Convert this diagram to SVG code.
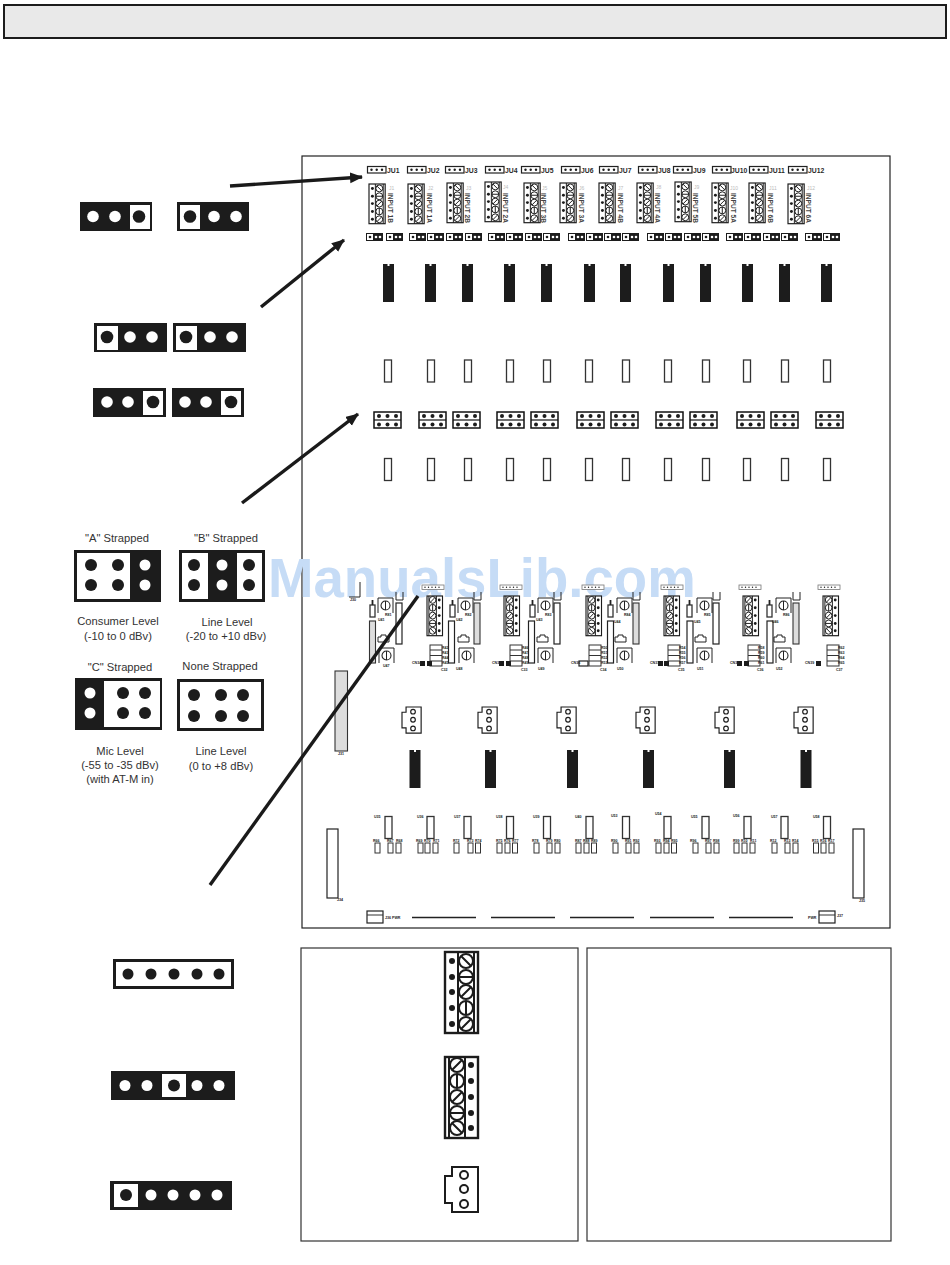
<svg xmlns="http://www.w3.org/2000/svg" width="950" height="1265" viewBox="0 0 950 1265">
<style>
text{font-family:"Liberation Sans",Arial,sans-serif;fill:#2a2a2a}
.cap{font-size:11.2px;text-anchor:middle;fill:#333}
.ju{font-size:6.8px;font-weight:bold}
.inp{font-size:6.6px;font-weight:bold;fill:#444}
.jl{font-size:5px;fill:#bbb}
.t{font-size:3.6px;font-weight:bold;fill:#222}
.k{fill:#1c1c1c}
.w{fill:#fff}
.pn{fill:#fff;stroke:#222;stroke-width:1.2}
.pj{fill:#fff;stroke:#111;stroke-width:1.5}
.sr{fill:#fff;stroke:#333;stroke-width:1.3}
.gr{fill:#ddd;stroke:#333;stroke-width:1.1}
.arrow{stroke:#1a1a1a;stroke-width:3.4;fill:none}
.s{fill:none;stroke:#1c1c1c;stroke-width:2}
.s1{fill:none;stroke:#222;stroke-width:1}
</style>
<defs>
<marker id="ah" markerUnits="userSpaceOnUse" markerWidth="14" markerHeight="12" refX="12" refY="5.5" orient="auto"><path d="M0,0L13,5.5L0,11z" fill="#1a1a1a"/></marker>
<g id="tbL"><rect width="33" height="81" fill="#fff" stroke="#1c1c1c" stroke-width="2.4"/><path class="s" d="M13,0V81M29,0V81"/><g class="k"><circle cx="7" cy="9" r="3"/><circle cx="7" cy="25" r="3"/><circle cx="7" cy="40" r="3"/><circle cx="7" cy="56" r="3"/><circle cx="7" cy="72" r="3"/></g><g class="s"><circle cx="21" cy="9" r="7"/><circle cx="21" cy="25" r="7"/><circle cx="21" cy="40" r="7"/><circle cx="21" cy="56" r="7"/><circle cx="21" cy="72" r="7"/><path d="M16,4L26,14M14,25H28M16,45L26,35M21,49V63M16,77L26,67"/></g></g>
<g id="tbR"><rect width="33" height="81" fill="#fff" stroke="#1c1c1c" stroke-width="2.4"/><path class="s" d="M4,0V81M20,0V81"/><g class="k"><circle cx="26" cy="8" r="3"/><circle cx="26" cy="24" r="3"/><circle cx="26" cy="40" r="3"/><circle cx="26" cy="56" r="3"/><circle cx="26" cy="71" r="3"/></g><g class="s"><circle cx="12" cy="8" r="7"/><circle cx="12" cy="24" r="7"/><circle cx="12" cy="40" r="7"/><circle cx="12" cy="56" r="7"/><circle cx="12" cy="71" r="7"/><path d="M7,13L17,3M12,17V31M7,45L17,35M5,56H19M7,66L17,76"/></g></g>
<g id="tb1"><use href="#tbL" transform="scale(.49)"/></g>
<g id="tb2"><use href="#tbR" transform="scale(.47 .49)"/></g>
<g id="p3"><path d="M33,0H7V9H0V36H7V45H33z" fill="#fff" stroke="#1c1c1c" stroke-width="2"/><g fill="#fff" stroke="#1c1c1c" stroke-width="2"><circle cx="19" cy="8" r="4"/><circle cx="19" cy="22" r="4"/><circle cx="19" cy="37" r="4"/></g></g>
<g id="p3s"><use href="#p3" transform="scale(.58)"/></g>
<g id="hd"><rect x=".5" y=".5" width="18.500" height="6.500" class="pn"/><g class="k"><circle cx="4.500" cy="3.700" r="1.200"/><circle cx="9.700" cy="3.700" r="1.200"/><circle cx="15" cy="3.700" r="1.200"/></g></g>
<g id="bk"><rect width="17" height="8" class="k"/><rect x="1" y="1" width="6" height="6" class="w"/><circle cx="4" cy="4" r="1.300" class="k"/><circle cx="10" cy="4" r="1.300" class="w"/><circle cx="14" cy="4" r="1.300" class="w"/></g>
<g id="ic"><rect width="11" height="38" class="k"/><rect x="4.500" width="2" height="2" class="w"/></g>
<g id="sm"><rect width="7" height="22" class="sr"/></g>
<g id="j6"><rect width="27" height="16" class="pj"/><path d="M0,8H27" stroke="#111" stroke-width="1.200"/><g class="k"><circle cx="5" cy="4" r="2"/><circle cx="13.500" cy="4" r="2"/><circle cx="22" cy="4" r="2"/><circle cx="5" cy="12.500" r="2"/><circle cx="13.500" cy="12.500" r="2"/><circle cx="22" cy="12.500" r="2"/></g></g>
<g id="pot"><path class="s1" d="M0,15V0H15V15"/><circle cx="7.500" cy="7.500" r="4.500" fill="#fff" stroke="#222" stroke-width="1.100"/><path class="s1" d="M7.500,3V12"/></g>
<g id="mini"><path class="s1" d="M0,7V2H3V0H8V2H11V7z"/></g>
<g id="jbr"><path class="s1" d="M0,0V8H7V0"/></g>
<g id="res"><rect y="5" width="5" height="12" class="sr"/><path d="M2.500,0V5" stroke="#222" stroke-width="1.800"/></g>
<g id="stk"><rect width="12" height="21" fill="#fff" stroke="#333" stroke-width="1"/><path d="M0,5H12M0,10.500H12M0,16H12" stroke="#333" stroke-width="1"/></g>
<g id="pin6"><rect width="22" height="4.500" fill="#fff" stroke="#777" stroke-width=".8"/><g class="k"><circle cx="3" cy="2.200" r=".7"/><circle cx="6.500" cy="2.200" r=".7"/><circle cx="10" cy="2.200" r=".7"/><circle cx="13.500" cy="2.200" r=".7"/><circle cx="17" cy="2.200" r=".7"/></g></g>
<g id="ss"><rect width="5" height="10" fill="#fff" stroke="#333" stroke-width="1"/></g>
</defs>

<rect width="950" height="1265" fill="#fff"/>
<g id="header-bar"><rect x="4" y="5" width="942" height="33" fill="#e9e9e9" stroke="#1c1c1c" stroke-width="2"/></g>
<g id="board-frame"><rect x="302" y="156" width="588" height="772" fill="#fff" stroke="#222" stroke-width="1.200"/></g>
<g id="panel-left"><rect x="301" y="948" width="277" height="293" fill="#fff" stroke="#333" stroke-width="1.200"/></g>
<g id="panel-right"><rect x="587" y="948" width="304" height="293" fill="#fff" stroke="#333" stroke-width="1.200"/></g>
<text id="watermark" x="268" y="597" style="font-size:54.600px;font-weight:bold;fill:#c6dcf6">ManualsLib.com</text>

<g id="ju-headers">
<use href="#hd" x="367" y="166"/><text class="ju" x="387" y="172.500">JU1</text>
<use href="#hd" x="407" y="166"/><text class="ju" x="427" y="172.500">JU2</text>
<use href="#hd" x="445" y="166"/><text class="ju" x="465" y="172.500">JU3</text>
<use href="#hd" x="485" y="166"/><text class="ju" x="505" y="172.500">JU4</text>
<use href="#hd" x="521" y="166"/><text class="ju" x="541" y="172.500">JU5</text>
<use href="#hd" x="561" y="166"/><text class="ju" x="581" y="172.500">JU6</text>
<use href="#hd" x="599" y="166"/><text class="ju" x="619" y="172.500">JU7</text>
<use href="#hd" x="638" y="166"/><text class="ju" x="658" y="172.500">JU8</text>
<use href="#hd" x="673" y="166"/><text class="ju" x="693" y="172.500">JU9</text>
<use href="#hd" x="712" y="166"/><text class="ju" x="731" y="172.500">JU10</text>
<use href="#hd" x="749" y="166"/><text class="ju" x="769" y="172.500">JU11</text>
<use href="#hd" x="788" y="166"/><text class="ju" x="808" y="172.500">JU12</text>
</g>

<g id="inputs">
<use href="#tb1" x="369" y="184"/><text class="jl" x="389" y="190">J1</text><text class="inp" transform="translate(388,193) rotate(90)">INPUT 1B</text>
<use href="#tb1" x="408" y="184"/><text class="jl" x="428" y="190">J2</text><text class="inp" transform="translate(427,193) rotate(90)">INPUT 1A</text>
<use href="#tb1" x="447" y="183"/><text class="jl" x="466" y="190">J3</text><text class="inp" transform="translate(465,193) rotate(90)">INPUT 2B</text>
<use href="#tb1" x="485" y="182"/><text class="jl" x="503" y="189">J4</text><text class="inp" transform="translate(503,193) rotate(90)">INPUT 2A</text>
<use href="#tb1" x="524" y="183"/><text class="jl" x="542" y="190">J5</text><text class="inp" transform="translate(541,193) rotate(90)">INPUT 3B</text>
<use href="#tb1" x="560" y="183"/><text class="jl" x="579" y="190">J6</text><text class="inp" transform="translate(579,193) rotate(90)">INPUT 3A</text>
<use href="#tb1" x="599" y="183"/><text class="jl" x="618" y="190">J7</text><text class="inp" transform="translate(618,193) rotate(90)">INPUT 4B</text>
<use href="#tb1" x="637" y="183"/><text class="jl" x="656" y="189">J8</text><text class="inp" transform="translate(655,193) rotate(90)">INPUT 4A</text>
<use href="#tb1" x="675" y="182"/><text class="jl" x="694" y="189">J9</text><text class="inp" transform="translate(693,193) rotate(90)">INPUT 5B</text>
<use href="#tb1" x="712" y="183"/><text class="jl" x="730" y="190">J10</text><text class="inp" transform="translate(731,193) rotate(90)">INPUT 5A</text>
<use href="#tb1" x="749" y="183"/><text class="jl" x="769" y="190">J11</text><text class="inp" transform="translate(768,193) rotate(90)">INPUT 6B</text>
<use href="#tb1" x="788" y="184"/><text class="jl" x="807" y="190">J12</text><text class="inp" transform="translate(806,193) rotate(90)">INPUT 6A</text>
</g>

<g id="black-jumper-row">
<use href="#bk" x="366" y="233"/><use href="#bk" x="386" y="233"/><use href="#bk" x="409" y="233"/><use href="#bk" x="427" y="233"/><use href="#bk" x="446" y="233"/><use href="#bk" x="465" y="233"/><use href="#bk" x="488" y="233"/><use href="#bk" x="506" y="233"/><use href="#bk" x="525" y="233"/><use href="#bk" x="543" y="233"/><use href="#bk" x="568" y="233"/><use href="#bk" x="586" y="233"/><use href="#bk" x="604" y="233"/><use href="#bk" x="622" y="233"/><use href="#bk" x="647" y="233"/><use href="#bk" x="665" y="233"/><use href="#bk" x="684" y="233"/><use href="#bk" x="702" y="233"/><use href="#bk" x="726" y="233"/><use href="#bk" x="744" y="233"/><use href="#bk" x="763" y="233"/><use href="#bk" x="781" y="233"/><use href="#bk" x="805" y="233"/><use href="#bk" x="823" y="233"/>
</g>
<g id="ic-row-top">
<use href="#ic" x="383" y="264"/><use href="#ic" x="425" y="264"/><use href="#ic" x="462" y="264"/><use href="#ic" x="504" y="264"/><use href="#ic" x="541" y="264"/><use href="#ic" x="584" y="264"/><use href="#ic" x="620" y="264"/><use href="#ic" x="663" y="264"/><use href="#ic" x="700" y="264"/><use href="#ic" x="742" y="264"/><use href="#ic" x="779" y="264"/><use href="#ic" x="821" y="264"/>
</g>
<g id="small-row-a">
<use href="#sm" x="384.500" y="360"/><use href="#sm" x="427.500" y="360"/><use href="#sm" x="464.500" y="360"/><use href="#sm" x="506.500" y="360"/><use href="#sm" x="543.500" y="360"/><use href="#sm" x="585.500" y="360"/><use href="#sm" x="622.500" y="360"/><use href="#sm" x="664.500" y="360"/><use href="#sm" x="702.500" y="360"/><use href="#sm" x="743.500" y="360"/><use href="#sm" x="781.500" y="360"/><use href="#sm" x="823.500" y="360"/>
</g>
<g id="six-pin-row">
<use href="#j6" x="374" y="412"/><use href="#j6" x="419" y="412"/><use href="#j6" x="453" y="412"/><use href="#j6" x="497" y="412"/><use href="#j6" x="531" y="412"/><use href="#j6" x="577" y="412"/><use href="#j6" x="611" y="412"/><use href="#j6" x="656" y="412"/><use href="#j6" x="690" y="412"/><use href="#j6" x="737" y="412"/><use href="#j6" x="771" y="412"/><use href="#j6" x="816" y="412"/>
</g>
<g id="small-row-b">
<use href="#sm" x="384.500" y="458.500"/><use href="#sm" x="427.500" y="458.500"/><use href="#sm" x="464.500" y="458.500"/><use href="#sm" x="506.500" y="458.500"/><use href="#sm" x="543.500" y="458.500"/><use href="#sm" x="585.500" y="458.500"/><use href="#sm" x="622.500" y="458.500"/><use href="#sm" x="664.500" y="458.500"/><use href="#sm" x="702.500" y="458.500"/><use href="#sm" x="743.500" y="458.500"/><use href="#sm" x="781.500" y="458.500"/><use href="#sm" x="823.500" y="458.500"/>
</g>

<g id="side-parts">
<rect x="335" y="671" width="12.500" height="80" class="gr"/><text class="t" x="338" y="755">J31</text>
<path class="s1" d="M360,582V597H349"/><text class="t" x="350" y="601">J30</text>
<rect x="327" y="829" width="11" height="69" class="pn"/><text class="t" x="337" y="901">J34</text>
<rect x="853" y="829" width="11" height="69" class="pn"/><text class="t" x="859" y="902">J35</text>
<rect x="367" y="911" width="16" height="12" class="pn"/><path d="M367,915H383" stroke="#333"/><text class="t" x="385" y="919">J36 PWR</text>
<rect x="819" y="911" width="16" height="12" class="pn"/><path d="M819,915H835" stroke="#333"/><text class="t" x="808" y="919">PWR</text><text class="t" x="837" y="917">J37</text>
</g>
<g id="long-lines"><path d="M412,917.500H476M491,917.500H555M570,917.500H634M650,917.500H714M729,917.500H793" stroke="#222" stroke-width="1.500"/></g>

<g id="channel-1">
<use href="#res" x="370" y="600"/><rect x="369.500" y="621" width="6" height="42" class="gr"/><use href="#pot" x="378" y="598"/><use href="#pot" x="379" y="648"/><use href="#mini" x="378" y="635"/><use href="#jbr" x="396" y="592"/><rect x="396" y="603" width="6" height="41" class="pn"/>
<use href="#tb2" x="427" y="596"/><use href="#pin6" x="422" y="585"/><use href="#stk" x="430" y="645"/><rect x="420" y="661" width="5" height="5" class="k"/><rect x="427" y="661" width="5" height="5" class="k"/>
<text class="t" x="378" y="621">U41</text><text class="t" x="385" y="616">R81</text><text class="t" x="383" y="667">U47</text><text class="t" x="412" y="664">CN34</text><text class="t" x="442" y="649">R42</text><text class="t" x="442" y="654">R43</text><text class="t" x="442" y="659">R44</text><text class="t" x="442" y="664">R45</text><text class="t" x="441" y="671">C32</text>
</g>
<g id="channel-2">
<use href="#res" x="450" y="600"/><rect x="448.500" y="621" width="6" height="42" class="pn"/><use href="#pot" x="458" y="598"/><use href="#pot" x="459" y="648"/><use href="#mini" x="458" y="635"/><use href="#jbr" x="474" y="592"/><rect x="474" y="603" width="6" height="41" class="gr"/>
<use href="#tb2" x="504" y="596"/><use href="#pin6" x="500" y="585"/><use href="#stk" x="510" y="645"/><rect x="499" y="661" width="5" height="5" class="k"/><rect x="506" y="661" width="5" height="5" class="k"/>
<text class="t" x="456" y="621">U42</text><text class="t" x="465" y="616">R82</text><text class="t" x="456" y="670">U48</text><text class="t" x="492" y="664">CN35</text><text class="t" x="522" y="649">R46</text><text class="t" x="522" y="654">R47</text><text class="t" x="522" y="659">R48</text><text class="t" x="522" y="664">R49</text><text class="t" x="521" y="671">C33</text>
</g>
<g id="channel-3">
<use href="#res" x="530" y="600"/><rect x="528.500" y="621" width="6" height="42" class="pn"/><use href="#pot" x="538" y="598"/><use href="#pot" x="538" y="648"/><use href="#mini" x="537" y="635"/><use href="#jbr" x="554" y="592"/><rect x="554" y="603" width="6" height="41" class="pn"/>
<use href="#tb2" x="586" y="596"/><use href="#pin6" x="582" y="585"/><use href="#stk" x="589" y="645"/><rect x="579" y="661" width="9" height="5" class="pn"/>
<text class="t" x="536" y="621">U43</text><text class="t" x="545" y="616">R83</text><text class="t" x="538" y="670">U49</text><text class="t" x="571" y="664">CN36</text><text class="t" x="601" y="649">R50</text><text class="t" x="601" y="654">R51</text><text class="t" x="601" y="659">R52</text><text class="t" x="601" y="664">R53</text><text class="t" x="600" y="671">C34</text>
</g>
<g id="channel-4">
<use href="#res" x="608" y="600"/><rect x="607.500" y="621" width="6" height="42" class="pn"/><use href="#pot" x="617" y="598"/><use href="#pot" x="617" y="648"/><use href="#mini" x="615" y="635"/><use href="#jbr" x="633" y="592"/><rect x="633" y="603" width="6" height="41" class="gr"/>
<use href="#tb2" x="664" y="596"/><use href="#pin6" x="661" y="585"/><use href="#stk" x="668" y="645"/><rect x="658" y="661" width="5" height="5" class="k"/><rect x="664" y="661" width="5" height="5" class="k"/>
<text class="t" x="614" y="623">U44</text><text class="t" x="624" y="616">R84</text><text class="t" x="617" y="670">U50</text><text class="t" x="650" y="664">CN37</text><text class="t" x="679" y="649">R54</text><text class="t" x="679" y="654">R55</text><text class="t" x="679" y="659">R56</text><text class="t" x="679" y="664">R57</text><text class="t" x="678" y="671">C35</text>
</g>
<g id="channel-5">
<use href="#res" x="687" y="600"/><rect x="687" y="621" width="6" height="42" class="pn"/><use href="#pot" x="697" y="598"/><use href="#pot" x="697" y="648"/><use href="#mini" x="695" y="635"/><use href="#jbr" x="713" y="592"/><rect x="713" y="603" width="6" height="41" class="pn"/>
<use href="#tb2" x="743" y="596"/><use href="#pin6" x="739" y="585"/><use href="#stk" x="748" y="645"/><rect x="737" y="661" width="5" height="5" class="k"/><rect x="744" y="661" width="5" height="5" class="k"/>
<text class="t" x="694" y="623">U45</text><text class="t" x="704" y="616">R85</text><text class="t" x="697" y="670">U51</text><text class="t" x="730" y="664">CN38</text><text class="t" x="758" y="649">R58</text><text class="t" x="758" y="654">R59</text><text class="t" x="758" y="659">R60</text><text class="t" x="758" y="664">R61</text><text class="t" x="757" y="671">C36</text>
</g>
<g id="channel-6">
<use href="#res" x="767" y="600"/><rect x="767" y="621" width="6" height="42" class="pn"/><use href="#pot" x="776" y="598"/><use href="#pot" x="776" y="648"/><use href="#mini" x="774" y="635"/><use href="#jbr" x="793" y="592"/><rect x="793" y="603" width="6" height="41" class="gr"/>
<use href="#tb2" x="823" y="596"/><use href="#pin6" x="818" y="585"/><use href="#stk" x="827" y="645"/><rect x="816" y="661" width="5" height="5" class="k"/>
<text class="t" x="772" y="623">U46</text><text class="t" x="783" y="616">R86</text><text class="t" x="776" y="670">U52</text><text class="t" x="805" y="664">CN39</text><text class="t" x="838" y="649">R62</text><text class="t" x="838" y="654">R63</text><text class="t" x="838" y="659">R64</text><text class="t" x="838" y="664">R65</text><text class="t" x="836" y="671">C37</text>
</g>

<g id="three-pin-row">
<use href="#p3s" x="402" y="707"/><use href="#p3s" x="478" y="707"/><use href="#p3s" x="557" y="707"/><use href="#p3s" x="636" y="707"/><use href="#p3s" x="715" y="707"/><use href="#p3s" x="794" y="707"/>
</g>
<g id="ic-row-lower">
<use href="#ic" x="409.500" y="750"/><use href="#ic" x="485" y="750"/><use href="#ic" x="567" y="750"/><use href="#ic" x="643" y="750"/><use href="#ic" x="724" y="750"/><use href="#ic" x="800.500" y="750"/>
</g>
<g id="bottom-parts">
<use href="#sm" x="385" y="816.500"/><use href="#sm" x="427" y="816.500"/><use href="#sm" x="464" y="816.500"/><use href="#sm" x="506.500" y="816.500"/><use href="#sm" x="543.500" y="816.500"/><use href="#sm" x="586" y="816.500"/><use href="#sm" x="622.500" y="816.500"/><use href="#sm" x="664" y="816.500"/><use href="#sm" x="702" y="816.500"/><use href="#sm" x="744" y="816.500"/><use href="#sm" x="781" y="816.500"/><use href="#sm" x="823.500" y="816.500"/>
<use href="#ss" x="375" y="843"/><use href="#ss" x="388" y="843"/><use href="#ss" x="396" y="843"/>
<use href="#ss" x="418" y="843"/><use href="#ss" x="425" y="843"/><use href="#ss" x="433" y="843"/>
<use href="#ss" x="454" y="843"/><use href="#ss" x="468" y="843"/><use href="#ss" x="475.500" y="843"/>
<use href="#ss" x="497" y="843"/><use href="#ss" x="505" y="843"/><use href="#ss" x="512.500" y="843"/>
<use href="#ss" x="534" y="843"/><use href="#ss" x="547" y="843"/><use href="#ss" x="555" y="843"/>
<use href="#ss" x="576" y="843"/><use href="#ss" x="584" y="843"/><use href="#ss" x="591.500" y="843"/>
<use href="#ss" x="613" y="843"/><use href="#ss" x="626" y="843"/><use href="#ss" x="634" y="843"/>
<use href="#ss" x="656" y="843"/><use href="#ss" x="664" y="843"/><use href="#ss" x="671.500" y="843"/>
<use href="#ss" x="693" y="843"/><use href="#ss" x="706" y="843"/><use href="#ss" x="714" y="843"/>
<use href="#ss" x="734" y="843"/><use href="#ss" x="742" y="843"/><use href="#ss" x="750" y="843"/>
<use href="#ss" x="772" y="843"/><use href="#ss" x="785" y="843"/><use href="#ss" x="793" y="843"/>
<use href="#ss" x="813.500" y="843"/><use href="#ss" x="821" y="843"/><use href="#ss" x="829" y="843"/>
<text class="t" x="374" y="818">U35</text><text class="t" x="417" y="818">U36</text><text class="t" x="454" y="818">U37</text><text class="t" x="496" y="818">U38</text><text class="t" x="533" y="818">U39</text><text class="t" x="575" y="818">U40</text><text class="t" x="611" y="817">U53</text><text class="t" x="655" y="815">U54</text><text class="t" x="691" y="818">U55</text><text class="t" x="733" y="817">U56</text><text class="t" x="771" y="818">U57</text><text class="t" x="813" y="818">U58</text>
<text class="t" x="373" y="842">R66</text><text class="t" x="387" y="842">R67</text><text class="t" x="396" y="842">R68</text>
<text class="t" x="416" y="842">R69</text><text class="t" x="424" y="842">R70</text><text class="t" x="433" y="842">R71</text>
<text class="t" x="453" y="842">R72</text><text class="t" x="467" y="842">R73</text><text class="t" x="475" y="842">R74</text>
<text class="t" x="496" y="842">R75</text><text class="t" x="504" y="842">R76</text><text class="t" x="512" y="842">R77</text>
<text class="t" x="532" y="842">R78</text><text class="t" x="546" y="842">R79</text><text class="t" x="554" y="842">R80</text>
<text class="t" x="575" y="842">R87</text><text class="t" x="583" y="842">R88</text><text class="t" x="591" y="842">R89</text>
<text class="t" x="611" y="842">R90</text><text class="t" x="625" y="842">R91</text><text class="t" x="633" y="842">R92</text>
<text class="t" x="654" y="842">R93</text><text class="t" x="663" y="842">R94</text><text class="t" x="671" y="842">R95</text>
<text class="t" x="690" y="842">R96</text><text class="t" x="705" y="842">R97</text><text class="t" x="713" y="842">R98</text>
<text class="t" x="733" y="842">R99</text><text class="t" x="741" y="842">R10</text><text class="t" x="750" y="842">R11</text>
<text class="t" x="770" y="842">R12</text><text class="t" x="784" y="842">R13</text><text class="t" x="792" y="842">R14</text>
<text class="t" x="812" y="842">R15</text><text class="t" x="820" y="842">R16</text><text class="t" x="828" y="842">R17</text>
</g>

<g id="jumper-a1"><rect x="80" y="202" width="72" height="29" class="k"/><rect x="130" y="205" width="20" height="24" class="w"/><circle cx="93" cy="216.500" r="5.800" class="w"/><circle cx="115" cy="216.500" r="5.800" class="w"/><circle cx="139" cy="216.500" r="6.300" class="k"/></g>
<g id="jumper-a2"><rect x="177" y="202" width="72" height="29" class="k"/><rect x="180" y="205" width="20" height="24" class="w"/><circle cx="190" cy="216.500" r="6.300" class="k"/><circle cx="214" cy="216.500" r="5.800" class="w"/><circle cx="236" cy="216.500" r="5.800" class="w"/></g>
<g id="jumper-b1"><rect x="94" y="323" width="73" height="29" class="k"/><rect x="97" y="326" width="21" height="24" class="w"/><circle cx="107" cy="337" r="6.300" class="k"/><circle cx="130" cy="337" r="5.800" class="w"/><circle cx="152" cy="337" r="5.800" class="w"/></g>
<g id="jumper-b2"><rect x="173" y="323" width="73" height="29" class="k"/><rect x="176" y="326" width="21" height="24" class="w"/><circle cx="186" cy="337" r="6.300" class="k"/><circle cx="210" cy="337" r="5.800" class="w"/><circle cx="232" cy="337" r="5.800" class="w"/></g>
<g id="jumper-c1"><rect x="93" y="388" width="73" height="29" class="k"/><rect x="143" y="391" width="20" height="24" class="w"/><circle cx="107" cy="402" r="5.800" class="w"/><circle cx="128" cy="402" r="5.800" class="w"/><circle cx="153" cy="402" r="6.300" class="k"/></g>
<g id="jumper-c2"><rect x="172" y="388" width="72" height="29" class="k"/><rect x="221" y="391" width="20" height="24" class="w"/><circle cx="185" cy="402" r="5.800" class="w"/><circle cx="206" cy="402" r="5.800" class="w"/><circle cx="231" cy="402" r="6.300" class="k"/></g>

<g id="strap-a"><text class="cap" x="117" y="542">"A" Strapped</text><rect x="74" y="550" width="87" height="52" class="k"/><rect x="77" y="553" width="53" height="46" class="w"/><g class="k"><circle cx="91" cy="565" r="6"/><circle cx="118" cy="565" r="6"/><circle cx="91" cy="585" r="6"/><circle cx="118" cy="585" r="6"/></g><g class="w"><circle cx="145" cy="565" r="5.500"/><circle cx="145" cy="585" r="5.500"/></g><text class="cap" x="118" y="625">Consumer Level</text><text class="cap" x="118" y="640">(-10 to 0 dBv)</text></g>
<g id="strap-b"><text class="cap" x="226" y="542">"B" Strapped</text><rect x="179" y="550" width="86" height="52" class="k"/><rect x="182" y="553" width="26" height="46" class="w"/><rect x="237" y="553" width="25" height="46" class="w"/><g class="k"><circle cx="194" cy="565" r="6"/><circle cx="194" cy="585" r="6"/><circle cx="249" cy="565" r="6"/><circle cx="249" cy="585" r="6"/></g><g class="w"><circle cx="222" cy="565" r="5.500"/><circle cx="222" cy="585" r="5.500"/></g><text class="cap" x="227" y="626">Line Level</text><text class="cap" x="226" y="640">(-20 to +10 dBv)</text></g>
<g id="strap-c"><text class="cap" x="120" y="671">"C" Strapped</text><rect x="75" y="678" width="87" height="52" class="k"/><rect x="104" y="681" width="56" height="46" class="w"/><g class="w"><circle cx="90" cy="693" r="5.500"/><circle cx="90" cy="713" r="5.500"/></g><g class="k"><circle cx="123" cy="693" r="6"/><circle cx="145" cy="693" r="6"/><circle cx="123" cy="713" r="6"/><circle cx="145" cy="713" r="6"/></g><text class="cap" x="120" y="755">Mic Level</text><text class="cap" x="120" y="769">(-55 to -35 dBv)</text><text class="cap" x="120" y="783">(with AT-M in)</text></g>
<g id="strap-none"><text class="cap" x="220" y="670">None Strapped</text><rect x="178.500" y="680.500" width="84" height="49" fill="#fff" stroke="#1c1c1c" stroke-width="3"/><g class="k"><circle cx="194" cy="695" r="6"/><circle cx="221" cy="695" r="6"/><circle cx="243" cy="695" r="6"/><circle cx="194" cy="716" r="6"/><circle cx="221" cy="716" r="6"/><circle cx="243" cy="716" r="6"/></g><text class="cap" x="221" y="755">Line Level</text><text class="cap" x="221" y="770">(0 to +8 dBv)</text></g>

<g id="jumper5-none"><rect x="114.500" y="960.500" width="118" height="27" fill="#fff" stroke="#1c1c1c" stroke-width="3"/><g class="k"><circle cx="128" cy="974" r="5.500"/><circle cx="151" cy="974" r="5.500"/><circle cx="174" cy="974" r="5.500"/><circle cx="197" cy="974" r="5.500"/><circle cx="219" cy="974" r="5.500"/></g></g>
<g id="jumper5-mid"><rect x="111" y="1071" width="124" height="29" class="k"/><rect x="162" y="1074" width="24" height="23" class="w"/><g class="w"><circle cx="125" cy="1085.500" r="5.500"/><circle cx="147" cy="1085.500" r="5.500"/><circle cx="197" cy="1085.500" r="5.500"/><circle cx="219" cy="1085.500" r="5.500"/></g><circle cx="174" cy="1085.500" r="6" class="k"/></g>
<g id="jumper5-left"><rect x="110" y="1181" width="122" height="29" class="k"/><rect x="114" y="1184" width="24" height="23" class="w"/><circle cx="126" cy="1195" r="6" class="k"/><g class="w"><circle cx="151" cy="1195" r="5.500"/><circle cx="173" cy="1195" r="5.500"/><circle cx="195" cy="1195" r="5.500"/><circle cx="217" cy="1195" r="5.500"/></g></g>

<g id="legend-terminal-a"><use href="#tbL" x="445" y="952"/></g>
<g id="legend-terminal-b"><use href="#tbR" x="445" y="1057"/></g>
<g id="legend-3pin"><use href="#p3" x="445" y="1167"/></g>

<g id="connectors">
<path class="arrow" marker-end="url(#ah)" d="M230,186L362,177"/>
<path class="arrow" marker-end="url(#ah)" d="M261,307L344,240"/>
<path class="arrow" marker-end="url(#ah)" d="M242,503L358,414"/>
<path class="arrow" d="M210,885L418,596"/>
</g>
</svg>
